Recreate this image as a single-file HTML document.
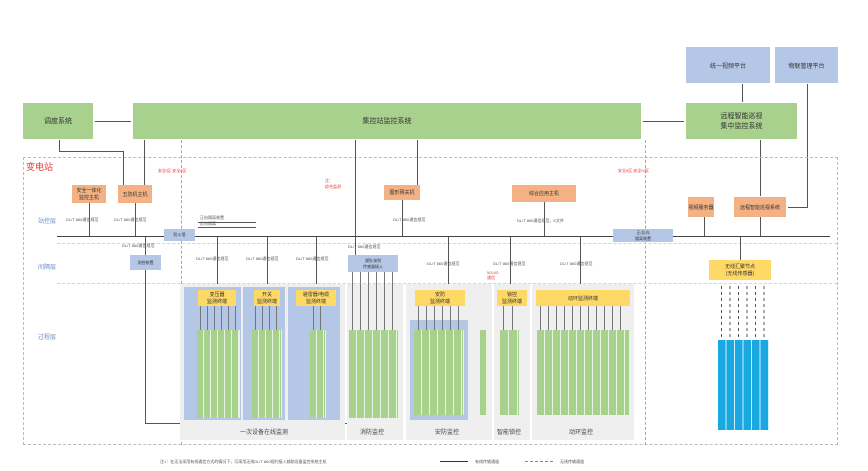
<!DOCTYPE html>
<html><head><meta charset="utf-8"><style>
body{margin:0;width:868px;height:471px;background:#fff;position:relative;overflow:hidden;font-family:"Liberation Sans","Noto Sans CJK SC",sans-serif;}
div{position:absolute;box-sizing:border-box;}
.g{background:#a9d18e;color:#333;font-size:7px;display:flex;align-items:center;justify-content:center;text-align:center;}
.b{background:#b4c7e7;color:#333;font-size:6px;display:flex;align-items:center;justify-content:center;text-align:center;}
.o{background:#f4b183;color:#333;font-size:5px;display:flex;align-items:center;justify-content:center;text-align:center;}
.y{background:#ffd966;color:#333;font-size:5px;display:flex;align-items:center;justify-content:center;text-align:center;}
.v{width:1px;background:#555;}
.h{height:1px;background:#555;}
.t{font-size:4px;color:#555;white-space:nowrap;}
.gc{background:#a9d18e;border-right:1px solid #e8f3e0;}
.cy{background:#1aa8e0;border-right:1px solid #cdefff;}
.gray{background:#efefef;}
.lbl{font-size:6px;color:#444;}
</style></head><body>
<!-- top systems -->
<div class="g" style="left:23px;top:103px;width:70px;height:36px;">调度系统</div>
<div class="g" style="left:133px;top:103px;width:508px;height:36px;">集控站监控系统</div>
<div class="b" style="left:686px;top:47px;width:84px;height:36px;">统一视频平台</div>
<div class="b" style="left:775px;top:47px;width:63px;height:36px;">物联管理平台</div>
<div class="g" style="left:686px;top:103px;width:111px;height:36px;">远程智能巡视<br>集中监控系统</div>
<div class="h" style="left:95px;top:121px;width:36px;"></div>
<div class="h" style="left:643px;top:121px;width:41px;"></div>
<div class="v" style="left:742px;top:84px;height:18px;"></div>
<div class="v" style="left:807px;top:84px;height:124px;"></div>
<div class="h" style="left:788px;top:207px;width:20px;"></div>
<div class="v" style="left:760px;top:140px;height:56px;"></div>
<!-- substation box -->
<div style="left:23px;top:157px;width:815px;height:288px;border:1px dashed #bbb;"></div>
<div style="left:26px;top:160px;font-size:9px;color:#e33;">变电站</div>
<div style="left:181px;top:140px;height:305px;border-left:1px dashed #e88;"></div>
<div style="left:645px;top:140px;height:305px;border-left:1px dashed #e88;"></div>
<div style="left:158px;top:168px;font-size:4px;color:#e33;">安全I区 安全II区</div>
<div style="left:618px;top:168px;font-size:4px;color:#e33;">安全II区 安全IV区</div>
<div style="left:38px;top:216px;" class="lbl"><span style="color:#6a8fc8">站控层</span></div>
<div style="left:38px;top:262px;" class="lbl"><span style="color:#6a8fc8">间隔层</span></div>
<div style="left:38px;top:332px;" class="lbl"><span style="color:#6a8fc8">过程层</span></div>
<div style="left:57px;top:243px;width:780px;border-top:1px dashed #c8d4e8;"></div>
<div style="left:57px;top:283px;width:780px;border-top:1px dashed #c8d4e8;"></div>
<!-- station layer -->
<div class="o" style="left:72px;top:185px;width:34px;height:18px;">安全一体化<br>监控主机</div>
<div class="o" style="left:118px;top:185px;width:34px;height:18px;">五防机主机</div>
<div class="o" style="left:384px;top:185px;width:36px;height:15px;">图形网关机</div>
<div class="o" style="left:512px;top:185px;width:64px;height:17px;">综合应用主机</div>
<div class="o" style="left:688px;top:197px;width:26px;height:20px;">视频服务器</div>
<div class="o" style="left:734px;top:197px;width:52px;height:20px;">远程智能巡视系统</div>
<div class="v" style="left:59px;top:140px;height:12px;"></div>
<div class="h" style="left:59px;top:151px;width:64px;"></div>
<div class="v" style="left:123px;top:151px;height:34px;"></div>
<div class="v" style="left:144px;top:140px;height:45px;"></div>
<div class="v" style="left:355px;top:140px;height:116px;"></div>
<div class="v" style="left:417px;top:140px;height:45px;"></div>
<div class="v" style="left:89px;top:203px;height:33px;"></div>
<div class="v" style="left:135px;top:203px;height:33px;"></div>
<div class="v" style="left:402px;top:200px;height:36px;"></div>
<div class="v" style="left:544px;top:202px;height:34px;"></div>
<div class="v" style="left:704px;top:217px;height:19px;"></div>
<div class="v" style="left:760px;top:217px;height:19px;"></div>
<div class="t" style="left:66px;top:217px;">DL/T 860通信规范</div>
<div class="t" style="left:114px;top:217px;">DL/T 860通信规范</div>
<div class="t" style="left:393px;top:217px;">DL/T 860通信规范</div>
<div class="t" style="left:517px;top:218px;">DL/T 860通信规范，E文件</div>
<div class="t" style="left:325px;top:178px;color:#e33;">注：<br>综合监测</div>
<div class="t" style="left:200px;top:215px;">正向隔离装置<br>反向隔离</div>
<div class="h" style="left:198px;top:222px;width:58px;"></div>
<div class="h" style="left:198px;top:227px;width:58px;"></div>
<!-- bus -->
<div class="h" style="left:57px;top:236px;width:773px;background:#444;"></div>
<div class="b" style="left:164px;top:229px;width:31px;height:12px;font-size:4px;">防火墙</div>
<div class="b" style="left:613px;top:229px;width:60px;height:13px;font-size:4px;">正/反向<br>隔离装置</div>
<!-- bay layer -->
<div class="b" style="left:130px;top:255px;width:31px;height:15px;font-size:4px;">测控装置</div>
<div class="b" style="left:348px;top:255px;width:50px;height:17px;font-size:4px;">消防/安防<br>传感器接入</div>
<div class="y" style="left:709px;top:260px;width:62px;height:20px;">无线汇聚节点<br>(无线传感器)</div>
<div class="v" style="left:145px;top:237px;height:18px;"></div>
<div class="v" style="left:145px;top:270px;height:153px;"></div>
<div class="h" style="left:145px;top:423px;width:203px;"></div>
<div class="v" style="left:740px;top:237px;height:23px;"></div>
<div class="t" style="left:122px;top:243px;">DL/T 860通信规范</div>
<div class="t" style="left:196px;top:256px;">DL/T 860通信规范</div>
<div class="t" style="left:246px;top:256px;">DL/T 860通信规范</div>
<div class="t" style="left:296px;top:256px;">DL/T 860通信规范</div>
<div class="t" style="left:348px;top:244px;">DL/T 860通信规范</div>
<div class="t" style="left:427px;top:261px;">DL/T 860通信规范</div>
<div class="t" style="left:493px;top:261px;">DL/T 860通信规范</div>
<div class="t" style="left:560px;top:261px;">DL/T 860通信规范</div>
<div class="t" style="left:487px;top:270px;color:#e33;">5G/4G<br>通信</div>
<div class="v" style="left:217px;top:237px;height:53px;"></div>
<div class="v" style="left:267px;top:237px;height:53px;"></div>
<div class="v" style="left:316px;top:237px;height:53px;"></div>
<div class="v" style="left:448px;top:237px;height:53px;"></div>
<div class="v" style="left:510px;top:237px;height:53px;"></div>
<div class="v" style="left:580px;top:237px;height:53px;"></div>
<!-- process layer groups -->
<div class="gray" style="left:180px;top:284px;width:165px;height:156px;"></div>
<div class="gray" style="left:347px;top:284px;width:56px;height:156px;"></div>
<div class="gray" style="left:406px;top:284px;width:86px;height:156px;"></div>
<div class="gray" style="left:494px;top:284px;width:36px;height:156px;"></div>
<div class="gray" style="left:532px;top:284px;width:102px;height:156px;"></div>
<div class="lbl" style="left:240px;top:427px;">一次设备在线监测</div>
<div class="lbl" style="left:360px;top:427px;">消防监控</div>
<div class="lbl" style="left:435px;top:427px;">安防监控</div>
<div class="lbl" style="left:497px;top:427px;">智能锁控</div>
<div class="lbl" style="left:569px;top:427px;">动环监控</div>
<div style="left:184px;top:287px;width:57px;height:133px;background:#b4c7e7;"></div>
<div style="left:243px;top:287px;width:42px;height:133px;background:#b4c7e7;"></div>
<div style="left:288px;top:287px;width:52px;height:133px;background:#b4c7e7;"></div>
<div style="left:410px;top:320px;width:58px;height:100px;background:#b4c7e7;"></div>
<div class="y" style="left:198px;top:290px;width:38px;height:16px;">变压器<br>监测终端</div>
<div class="y" style="left:254px;top:290px;width:26px;height:16px;">开关<br>监测终端</div>
<div class="y" style="left:296px;top:290px;width:40px;height:16px;">避雷器/电缆<br>监测终端</div>
<div class="y" style="left:415px;top:290px;width:50px;height:16px;">安防<br>监测终端</div>
<div class="y" style="left:497px;top:290px;width:30px;height:16px;">锁控<br>监测终端</div>
<div class="y" style="left:536px;top:290px;width:94px;height:16px;">动环监测终端</div>
<!-- green columns -->
<div class="gc" style="left:197px;top:330px;width:43px;height:88px;background:repeating-linear-gradient(90deg,#a9d18e 0 6px,#e8f3e0 6px 7px);"></div>
<div class="gc" style="left:252px;top:330px;width:30px;height:88px;background:repeating-linear-gradient(90deg,#a9d18e 0 6px,#e8f3e0 6px 7px);"></div>
<div class="gc" style="left:310px;top:330px;width:16px;height:88px;background:repeating-linear-gradient(90deg,#a9d18e 0 6px,#e8f3e0 6px 7px);"></div>
<div class="gc" style="left:349px;top:330px;width:50px;height:88px;background:repeating-linear-gradient(90deg,#a9d18e 0 7px,#e8f3e0 7px 8px);"></div>
<div class="gc" style="left:414px;top:330px;width:50px;height:85px;background:repeating-linear-gradient(90deg,#a9d18e 0 7px,#e8f3e0 7px 8px);"></div>
<div class="gc" style="left:480px;top:330px;width:7px;height:85px;"></div>
<div class="gc" style="left:500px;top:330px;width:20px;height:85px;background:repeating-linear-gradient(90deg,#a9d18e 0 8px,#e8f3e0 8px 9px);"></div>
<div class="gc" style="left:537px;top:330px;width:93px;height:85px;background:repeating-linear-gradient(90deg,#a9d18e 0 7px,#e8f3e0 7px 8px);"></div>
<!-- connector lines into columns -->
<div style="left:200px;top:306px;width:38px;height:24px;background:repeating-linear-gradient(90deg,#777 0 1px,transparent 1px 7px);"></div>
<div style="left:255px;top:306px;width:24px;height:24px;background:repeating-linear-gradient(90deg,#777 0 1px,transparent 1px 7px);"></div>
<div style="left:313px;top:306px;width:12px;height:24px;background:repeating-linear-gradient(90deg,#777 0 1px,transparent 1px 7px);"></div>
<div style="left:352px;top:272px;width:46px;height:58px;background:repeating-linear-gradient(90deg,#777 0 1px,transparent 1px 8px);"></div>
<div style="left:418px;top:306px;width:46px;height:24px;background:repeating-linear-gradient(90deg,#777 0 1px,transparent 1px 8px);"></div>
<div style="left:503px;top:306px;width:16px;height:24px;background:repeating-linear-gradient(90deg,#777 0 1px,transparent 1px 9px);"></div>
<div style="left:540px;top:306px;width:88px;height:24px;background:repeating-linear-gradient(90deg,#777 0 1px,transparent 1px 8px);"></div>
<!-- wireless -->
<div style="left:718px;top:286px;width:50px;height:54px;background:repeating-linear-gradient(90deg,transparent 0 3px,#555 3px 4px,transparent 4px 8.5px);-webkit-mask:repeating-linear-gradient(180deg,#000 0 3px,transparent 3px 6px);"></div>
<div class="cy" style="left:718px;top:340px;width:51px;height:90px;background:repeating-linear-gradient(90deg,#1aa8e0 0 7.5px,#cdefff 7.5px 8.5px);"></div>
<!-- legend -->
<div class="t" style="left:160px;top:459px;">注1：在无法采用有线通信方式的情况下，可采用无线DL/T 860规约接入辅助设备监控系统主机</div>
<div class="h" style="left:440px;top:461px;width:28px;background:#333;"></div>
<div class="t" style="left:475px;top:459px;">有线传输通道</div>
<div style="left:525px;top:461px;width:28px;border-top:1px dashed #888;"></div>
<div class="t" style="left:560px;top:459px;">无线传输通道</div>
</body></html>
